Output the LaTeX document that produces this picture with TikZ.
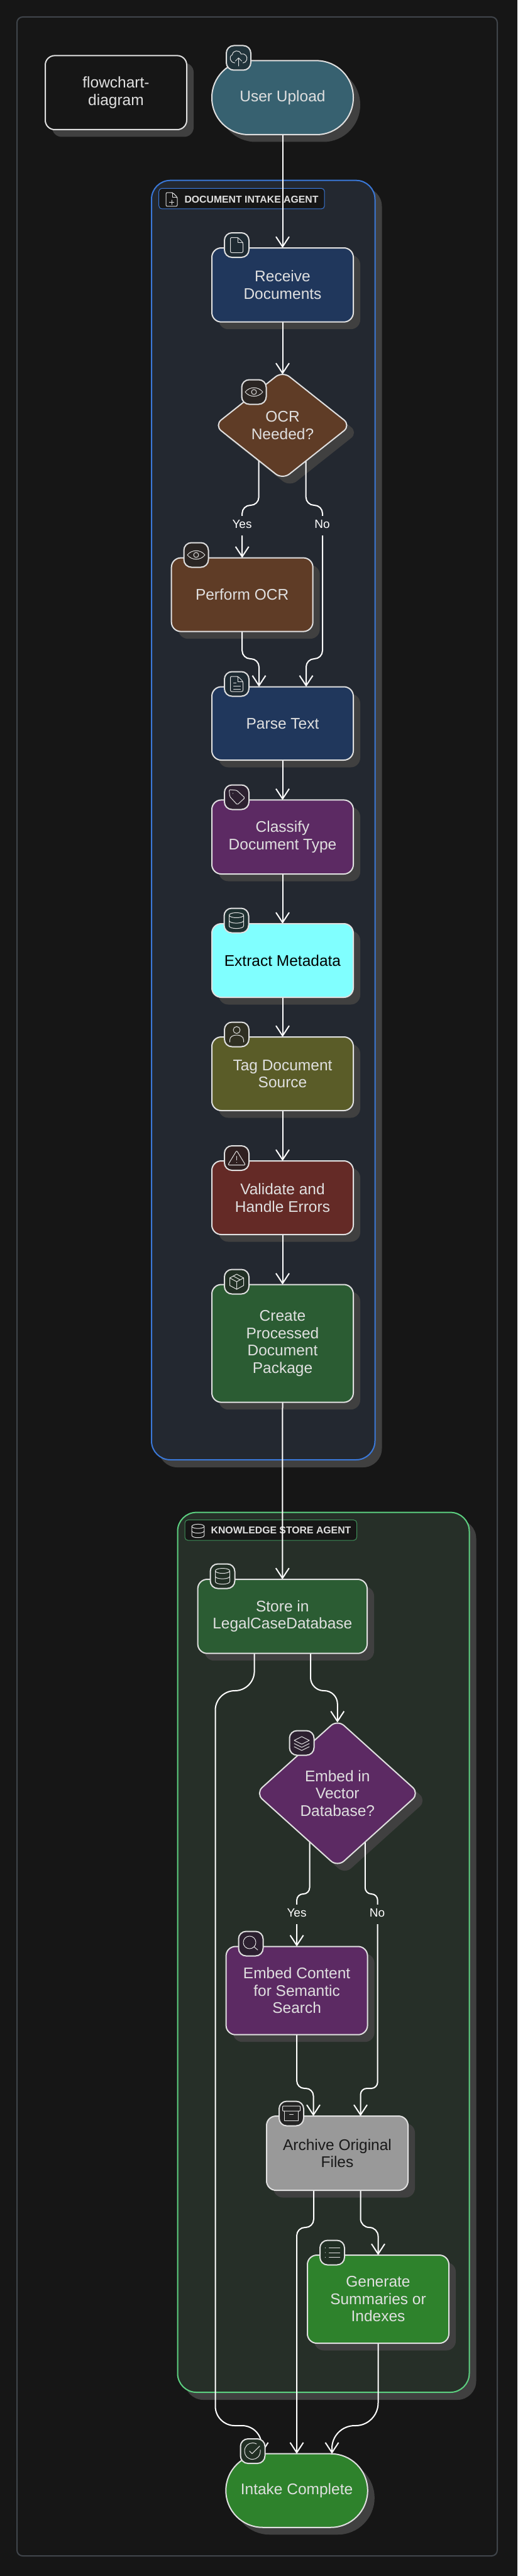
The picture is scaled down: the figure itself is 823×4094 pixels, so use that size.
\documentclass[tikz,border=0pt]{standalone}
\usepackage{fontspec}
\setmainfont{Liberation Sans}
\usetikzlibrary{arrows.meta,shapes.geometric,calc}
\pgfdeclarelayer{back}\pgfdeclarelayer{shadows}\pgfdeclarelayer{edges}
\pgfsetlayers{back,shadows,edges,main}
\definecolor{bgc}{HTML}{161616}
\definecolor{framec}{HTML}{40454B}
\definecolor{shadowc}{HTML}{404040}
\definecolor{linec}{HTML}{E0E0E0}
\definecolor{bluefill}{HTML}{232830}
\definecolor{bluedraw}{HTML}{3A78D8}
\definecolor{greenfill}{HTML}{262F28}
\definecolor{greendraw}{HTML}{5CD080}
\definecolor{cupload}{HTML}{376170}
\definecolor{cblue}{HTML}{20375C}
\definecolor{cbrown}{HTML}{5F3C26}
\definecolor{cpurple}{HTML}{5C2A63}
\definecolor{ccyan}{HTML}{80FFFF}
\definecolor{colive}{HTML}{5A5C28}
\definecolor{cred}{HTML}{642A26}
\definecolor{cdgreen}{HTML}{2B5C33}
\definecolor{cgrey}{HTML}{999999}
\definecolor{cgreen}{HTML}{2E822C}
\definecolor{bupl}{HTML}{21333A}
\definecolor{bblu}{HTML}{1E2A32}
\definecolor{bbro}{HTML}{2A2523}
\definecolor{bpur}{HTML}{2C2030}
\definecolor{bcya}{HTML}{1E3030}
\definecolor{boli}{HTML}{2F2F22}
\definecolor{bred}{HTML}{2F2020}
\definecolor{bgrn}{HTML}{212F24}
\definecolor{bgry}{HTML}{242424}
\newcommand{\nodefont}{\fontsize{24.5}{27.5}\selectfont}
\tikzset{
  nodebox/.style={draw=linec,line width=2pt,inner sep=0pt,outer sep=0pt,align=center,font=\nodefont},
  dia/.style={draw=linec,line width=2pt,inner sep=0pt,outer sep=0pt,align=center,font=\nodefont,shape=diamond,rounded corners=14pt},
  badge/.style={draw=linec,line width=2pt,minimum width=39pt,minimum height=39pt,inner sep=0pt,outer sep=0pt,rounded corners=12pt},
  edge/.style={draw=white,line width=2pt,-{Straight Barb[length=16pt,width=21pt,line width=2pt]}},
  ic/.style={draw=linec,line width=1pt,line join=round,line cap=round},
  elabel/.style={font=\fontsize{19}{19}\selectfont,text=white,inner ysep=0pt,inner xsep=3pt,outer sep=0pt,text height=19.5pt,text depth=11.5pt},
  glabel/.style={fill=bgc,line width=1pt,rounded corners=5pt,inner sep=0pt,outer sep=0pt},
  gtext/.style={font=\fontsize{15.8}{16}\bfseries\selectfont,text=linec,inner sep=0pt,outer sep=0pt}
}
% name x1 y1 x2 y2 radius fill textcolor text
\newcommand{\nd}[9]{%
  \pgfmathsetmacro{\cxx}{(#2+#4)/2}\pgfmathsetmacro{\cyy}{(#3+#5)/2}%
  \pgfmathsetmacro{\wdd}{#4-#2}\pgfmathsetmacro{\htt}{#5-#3}%
  \begin{pgfonlayer}{shadows}
    \fill[shadowc,rounded corners=#6pt] (#2+11,#3+11.5) rectangle (#4+11,#5+11.5);
  \end{pgfonlayer}
  \node[nodebox,fill=#7,text=#8,rounded corners=#6pt,minimum width=\wdd pt,minimum height=\htt pt] (#1) at (\cxx,\cyy) {#9};
}
% name cx cy halfw halfh fill text
\newcommand{\dm}[7]{%
  \begin{pgfonlayer}{shadows}
    \fill[shadowc,rounded corners=14pt] (#2+11.5,#3-#5+11.5) -- (#2+#4+11.5,#3+11.5) -- (#2+11.5,#3+#5+11.5) -- (#2-#4+11.5,#3+11.5) -- cycle;
  \end{pgfonlayer}
  \pgfmathsetmacro{\wdd}{2*#4}\pgfmathsetmacro{\htt}{2*#5}%
  \node[dia,fill=#6,text=linec,shape aspect=1.2,minimum width=\wdd pt,minimum height=\htt pt] (#1) at (#2,#3) {#7};
}
% name x1 y1 fill icon
\newcommand{\bdg}[5]{%
  \node[badge,fill=#4] (#1) at (#2+20,#3+20) {};
  \begin{scope}[shift={(#1.center)}]#5\end{scope}
}
% start end ym r
\newcommand{\jog}[4]{%
  \coordinate (ja) at (#1);\coordinate (jb) at (#2);
  \draw[edge,rounded corners=#4pt] (ja) -- (ja |- 0,#3) -- (jb |- 0,#3) -- (jb);
}
\newcommand{\icupload}{\draw[ic] (-6,8) .. controls (-14,7) and (-16,-2) .. (-10,-5) .. controls (-9,-12) and (1,-14) .. (4,-6) .. controls (10,-8) and (15,-2) .. (13,3) .. controls (12,6) and (10,8) .. (7,8);
  \draw[ic] (0,13) -- (0,0) (-5,5) -- (0,0) -- (5,5);}
\newcommand{\icfile}{\draw[ic,rounded corners=2pt] (-10,-12) -- (2,-12) -- (10,-4) -- (10,12) -- (-10,12) -- cycle;
  \draw[ic] (2,-12) -- (2,-4) -- (10,-4);}
\newcommand{\icfiletext}{\icfile\draw[ic] (-5,-2) -- (-1,-2) (-5,3) -- (6,3) (-5,8) -- (6,8);}
\newcommand{\icfileplus}{\icfile\draw[ic] (-4,5) -- (4,5) (0,1) -- (0,9);}
\newcommand{\iceye}{\draw[ic] (-14,0) .. controls (-7,-9) and (7,-9) .. (14,0) .. controls (7,9) and (-7,9) .. (-14,0);\draw[ic] (0,0) circle (4pt);}
\newcommand{\ictag}{\draw[ic,rounded corners=1.5pt] (-12,-12) -- (0,-11) -- (13,1) -- (1,12) -- (-11,-1) -- cycle;\fill[linec] (-6,-6) circle (.7pt);}
\newcommand{\icdb}{\draw[ic] (0,-8.5) ellipse (11.5pt and 4pt);
  \draw[ic] (-11.5,-8.5) -- (-11.5,8.5) .. controls (-11.5,14) and (11.5,14) .. (11.5,8.5) -- (11.5,-8.5);
  \draw[ic] (-11.5,0) .. controls (-11.5,5.5) and (11.5,5.5) .. (11.5,0);}
\newcommand{\icuser}{\draw[ic] (0,-7) circle (5.5pt);\draw[ic] (-11,12) -- (-11,9) .. controls (-11,3) and (-5,1) .. (0,1) .. controls (5,1) and (11,3) .. (11,9) -- (11,12);}
\newcommand{\icwarn}{\draw[ic,rounded corners=2pt] (0,-12) -- (14,11) -- (-14,11) -- cycle;\draw[ic] (0,-3) -- (0,3);\fill[linec] (0,7) circle (.7pt);}
\newcommand{\icbox}{\draw[ic] (0,-12) -- (11,-6) -- (11,6) -- (0,12) -- (-11,6) -- (-11,-6) -- cycle;
  \draw[ic] (-11,-6) -- (0,0) -- (11,-6) (0,0) -- (0,12) (-5.5,-9) -- (5.5,-3);}
\newcommand{\iclayers}{\draw[ic] (0,-10) -- (12,-4) -- (0,2) -- (-12,-4) -- cycle;\draw[ic] (-12,1) -- (0,7) -- (12,1) (-12,6) -- (0,12) -- (12,6);}
\newcommand{\icsearch}{\draw[ic] (-2,-2) circle (10pt);\draw[ic] (5,5) -- (11,10);}
\newcommand{\icarchive}{\draw[ic,rounded corners=1pt] (-14,-12) rectangle (14,-4);\draw[ic] (-11,-4) -- (-11,11) -- (11,11) -- (11,-4) (-3,1) -- (3,1);}
\newcommand{\iclist}{\draw[ic] (-5,-7.5) -- (12,-7.5) (-5,0) -- (12,0) (-5,7.5) -- (12,7.5);\fill[linec] (-11,-7.5) circle (.6pt) (-11,0) circle (.6pt) (-11,7.5) circle (.6pt);}
\newcommand{\iccheck}{\draw[ic] (12,-2) .. controls (13,8) and (6,13) .. (0,13) .. controls (-8,13) and (-13,7) .. (-13,0) .. controls (-13,-8) and (-7,-13) .. (0,-13) .. controls (2,-13) and (4,-12.5) .. (6,-11.5);\draw[ic] (-5,0) -- (-1,4) -- (11,-8);}
\begin{document}
\begin{tikzpicture}[x=1pt,y=-1pt]
\useasboundingbox (0,0) rectangle (823,4094);
\begin{pgfonlayer}{back}
  \fill[bgc] (0,0) rectangle (823,4094);
  \node[draw=framec,line width=2pt,rounded corners=9pt,minimum width=764pt,minimum height=4035pt,inner sep=0pt,outer sep=0pt,anchor=north west] (frame) at (27,27) {};
  % group 1
  \fill[shadowc,rounded corners=30pt] (252,298) rectangle (607.5,2332);
  \node[fill=bluefill,draw=bluedraw,line width=2pt,rounded corners=30pt,minimum width=355.5pt,minimum height=2033.3pt,inner sep=0pt,outer sep=0pt,anchor=north west] (gone) at (241,286.7) {};
  \node[glabel,draw=bluedraw,minimum width=263.5pt,minimum height=32.7pt,anchor=north west] (gonelabel) at (252.7,299.3) {};
  \node[gtext] (gonetext) at (400,317) {DOCUMENT INTAKE AGENT};
  \begin{scope}[shift={(273,317)},scale=.9]\icfileplus\end{scope}
  % group 2
  \fill[shadowc,rounded corners=30pt] (293.5,2415) rectangle (757.5,3814);
  \node[fill=greenfill,draw=greendraw,line width=2pt,rounded corners=30pt,minimum width=464pt,minimum height=1398.4pt,inner sep=0pt,outer sep=0pt,anchor=north west] (gtwo) at (282.5,2403.6) {};
  \node[glabel,draw=greendraw!70!black,minimum width=273.5pt,minimum height=32.4pt,anchor=north west] (gtwolabel) at (294,2415.6) {};
  \node[gtext] (gtwotext) at (447,2432) {KNOWLEDGE STORE AGENT};
  \begin{scope}[shift={(315,2433)},scale=.85]\icdb\end{scope}
\end{pgfonlayer}

\nd{title}{72}{88.4}{297}{206}{15}{bgc}{linec}{flowchart-\\diagram}
\nd{upload}{337}{96.4}{562}{214}{58.5}{cupload}{linec}{User Upload}
\nd{recv}{337}{394}{562}{511.7}{15}{cblue}{linec}{Receive\\Documents}
\dm{ocr}{449.5}{676}{108.5}{86}{cbrown}{OCR\\Needed?}
\nd{perform}{272.7}{886.6}{497.7}{1003.6}{15}{cbrown}{linec}{Perform OCR}
\nd{parse}{337}{1091.5}{562}{1208}{15}{cblue}{linec}{Parse Text}
\nd{classify}{337}{1271.4}{562}{1389}{15}{cpurple}{linec}{Classify\\Document Type}
\nd{extract}{337}{1468}{562}{1585}{15}{ccyan}{black}{Extract Metadata}
\nd{tagsrc}{337}{1648}{562}{1765}{15}{colive}{linec}{Tag Document\\Source}
\nd{validate}{337}{1845}{562}{1962}{15}{cred}{linec}{Validate and\\Handle Errors}
\nd{create}{337}{2041.5}{562}{2228.6}{15}{cdgreen}{linec}{Create\\Processed\\Document\\Package}
\nd{store}{314.6}{2510}{584}{2627.7}{15}{cdgreen}{linec}{Store in\\LegalCaseDatabase}
\dm{embed}{536.8}{2850}{130}{117}{cpurple}{Embed in\\Vector\\Database?}
\nd{econt}{359.6}{3093.5}{584.6}{3233.7}{15}{cpurple}{linec}{Embed Content\\for Semantic\\Search}
\nd{arch}{424}{3363}{649}{3481}{15}{cgrey}{black!90}{Archive Original\\Files}
\nd{gen}{489}{3584}{714}{3724}{15}{cgreen}{linec}{Generate\\Summaries or\\Indexes}
\nd{intake}{359.3}{3899.7}{584.8}{4016.7}{58.5}{cgreen}{linec}{Intake Complete}

\node[elabel,fill=bluefill] (lyes) at (385,835.5) {Yes};
\node[elabel,fill=bluefill] (lno) at (512.5,835.5) {No};
\node[elabel,fill=greenfill] (lyestwo) at (472,3042.5) {Yes};
\node[elabel,fill=greenfill] (lnotwo) at (600,3042.5) {No};

\bdg{bupload}{359.5}{72}{bupl}{\icupload}
\bdg{brecv}{356.5}{369.5}{bblu}{\icfile}
\bdg{bocr}{384}{603}{bbro}{\iceye}
\bdg{bperform}{292}{862}{bbro}{\iceye}
\bdg{bparse}{356.5}{1067}{bblu}{\icfiletext}
\bdg{bclassify}{356.5}{1247}{bpur}{\ictag}
\bdg{bextract}{356}{1443}{bcya}{\icdb}
\bdg{btag}{356.5}{1624}{boli}{\icuser}
\bdg{bvalidate}{356.5}{1820.5}{bred}{\icwarn}
\bdg{bcreate}{356.5}{2017}{bgrn}{\icbox}
\bdg{bstore}{334}{2485}{bgrn}{\icdb}
\bdg{bembed}{460}{2750}{bpur}{\iclayers}
\bdg{bsearch}{379}{3069}{bpur}{\icsearch}
\bdg{barch}{443.5}{3339}{bgry}{\icarchive}
\bdg{bgen}{508.5}{3560}{bgrn}{\iclist}
\bdg{bintake}{382}{3875.5}{bgrn}{\iccheck}

\begin{pgfonlayer}{edges}
  \draw[edge] (upload.south) -- (recv.north);
  \draw[edge] (recv.south) -- ([yshift=-5pt]ocr.north);
  \jog{[xshift=-37.8pt]ocr.center}{perform.north}{803}{13}
  \coordinate (laneN) at (513,803);
  \coordinate (nstart) at ([xshift=37.2pt]ocr.center);
  \coordinate (nend) at ([xshift=37.5pt]parse.north);
  \draw[edge,rounded corners=13pt] (nstart) -- (nstart |- laneN) -- (laneN) -- (laneN |- 0,1047) -- (nend |- 0,1047) -- (nend);
  \jog{perform.south}{[xshift=-37.5pt]parse.north}{1047}{13}
  \draw[edge] (parse.south) -- (classify.north);
  \draw[edge] (classify.south) -- (extract.north);
  \draw[edge] (extract.south) -- (tagsrc.north);
  \draw[edge] (tagsrc.south) -- (validate.north);
  \draw[edge] (validate.south) -- (create.north);
  \draw[edge] (create.south) -- (store.north);
  \coordinate (laneS) at (342.5,2687);
  \coordinate (sstart) at ([xshift=-44.7pt]store.south);
  \coordinate (send) at ([xshift=-56pt]intake.north);
  \draw[edge,rounded corners=31pt] (sstart) -- (sstart |- laneS) -- (laneS) -- (laneS |- 0,3855) -- (send |- 0,3855) -- (send);
  \jog{[xshift=44.7pt]store.south}{[yshift=-4.5pt]embed.north}{2687}{21}
  \jog{[xshift=-44.3pt]embed.center}{econt.north}{3010}{10}
  \coordinate (laneE) at (600.7,3010);
  \coordinate (estart) at ([xshift=44pt]embed.center);
  \coordinate (eend) at ([xshift=37pt]arch.north);
  \draw[edge,rounded corners=10pt] (estart) -- (estart |- laneE) -- (laneE) -- (laneE |- 0,3319) -- (eend |- 0,3319) -- (eend);
  \jog{econt.south}{[xshift=-38pt]arch.north}{3319}{12}
  \jog{[xshift=-37.5pt]arch.south}{intake.north}{3540}{13}
  \jog{[xshift=37pt]arch.south}{gen.north}{3540}{14}
  \jog{gen.south}{[xshift=56pt]intake.north}{3855}{36}
\end{pgfonlayer}
\end{tikzpicture}
\end{document}
